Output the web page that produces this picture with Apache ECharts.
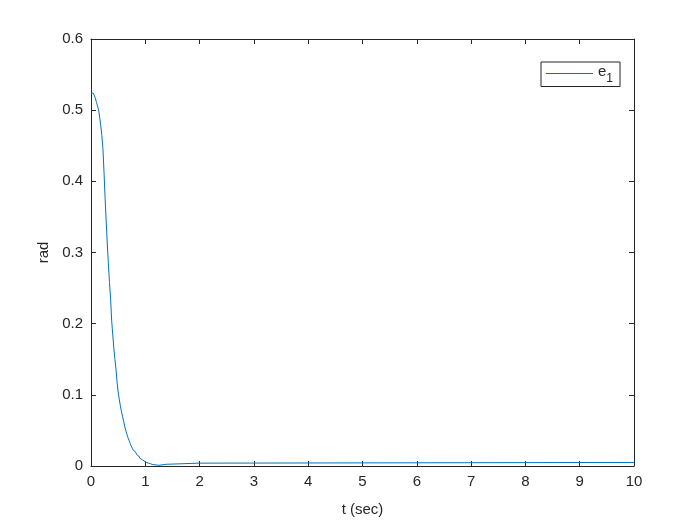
<!DOCTYPE html>
<html>
<head>
<meta charset="utf-8">
<script src="https://cdn.jsdelivr.net/npm/echarts@6/dist/echarts.min.js"></script>
<style>html,body{margin:0;padding:0;background:#fff}#c{width:700px;height:525px}</style>
</head>
<body>
<div id="c"></div>
<script>
var times = [0,0.02,0.04,0.06,0.08,0.10,0.12,0.14,0.16,0.18,0.20,0.22,0.24,0.26,0.28,0.30,0.32,0.34,0.36,0.38,0.40,0.42,0.44,0.46,0.48,0.50,0.52,0.54,0.56,0.58,0.60,0.62,0.64,0.66,0.68,0.70,0.72,0.74,0.76,0.78,0.80,0.82,0.84,0.86,0.88,0.90,0.92,0.94,0.96,0.98,1.00,1.02,1.04,1.06,1.08,1.10,1.12,1.14,1.25,1.39,1.99,10];
var e1 = [0.524,0.524,0.523,0.521,0.517,0.511,0.506,0.500,0.490,0.478,0.464,0.446,0.412,0.376,0.343,0.312,0.284,0.258,0.236,0.205,0.185,0.166,0.150,0.136,0.118,0.104,0.094,0.085,0.077,0.070,0.063,0.056,0.050,0.045,0.040,0.036,0.032,0.028,0.025,0.022,0.020,0.018,0.016,0.014,0.012,0.011,0.009,0.008,0.007,0.006,0.005,0.004,0.004,0.003,0.003,0.002,0.002,0.001,0.0024,0.004,0.005,0.005];
var xTicks = [0,1,2,3,4,5,6,7,8,9,10];
var yTicks = [0,0.1,0.2,0.3,0.4,0.5,0.6];

var data = times.map(function(t,i){return [t,e1[i]];});
var axisCol = '#262626';
var font = 'Liberation Sans, Arial, sans-serif';
function baseX(show){return {type:'value',min:xTicks[0],max:xTicks[xTicks.length-1],interval:1,
  axisLine:{show:true,onZero:false,lineStyle:{color:axisCol,width:1}},
  axisTick:{show:true,inside:true,length:5,lineStyle:{color:axisCol}},
  axisLabel:{show:show,color:axisCol,fontSize:15,fontFamily:font,margin:8},
  splitLine:{show:false}};}
function baseY(show){return {type:'value',min:yTicks[0],max:yTicks[yTicks.length-1],interval:0.1,
  axisLine:{show:true,onZero:false,lineStyle:{color:axisCol,width:1}},
  axisTick:{show:true,inside:true,length:5,lineStyle:{color:axisCol}},
  axisLabel:{show:show,color:axisCol,fontSize:15,fontFamily:font,margin:8,
    formatter:function(v){return String(Math.round(v*10)/10);}},
  splitLine:{show:false}};}
var xa = baseX(true); xa.position='bottom'; xa.name='t (sec)'; xa.nameLocation='middle'; xa.nameGap=36;
xa.nameTextStyle={color:axisCol,fontSize:15,fontFamily:font};
var xb = baseX(false); xb.position='top';
var ya = baseY(true); ya.position='left'; ya.name='rad'; ya.nameLocation='middle'; ya.nameGap=39;
ya.nameTextStyle={color:axisCol,fontSize:15,fontFamily:font};
var yb = baseY(false); yb.position='right';

var chart = echarts.init(document.getElementById('c'));
chart.setOption({
  animation:false,
  backgroundColor:'#fff',
  grid:{left:91,right:66,top:39,bottom:59,containLabel:false},
  xAxis:[xa,xb],
  yAxis:[ya,yb],
  legend:{show:true,left:541,top:62,orient:'horizontal',
    backgroundColor:'#fff',borderColor:axisCol,borderWidth:1,borderRadius:0,
    padding:[2,7,2,5],itemWidth:47,itemHeight:1,itemGap:0,
    data:[{name:'e1',icon:'rect',itemStyle:{color:'#0072BD'}}],
    formatter:function(){return '{e|e}{s|1}';},
    textStyle:{rich:{e:{fontSize:15,fontFamily:font,color:axisCol,padding:[0,0,4,0]},
                     s:{fontSize:12,fontFamily:font,color:axisCol,padding:[10,0,0,0]}}}
  },
  series:[{name:'e1',type:'line',xAxisIndex:0,yAxisIndex:0,step:'end',
    symbol:'none',data:data,lineStyle:{color:'#0072BD',width:1},itemStyle:{color:'#0072BD'}}]
});
</script>
</body>
</html>
